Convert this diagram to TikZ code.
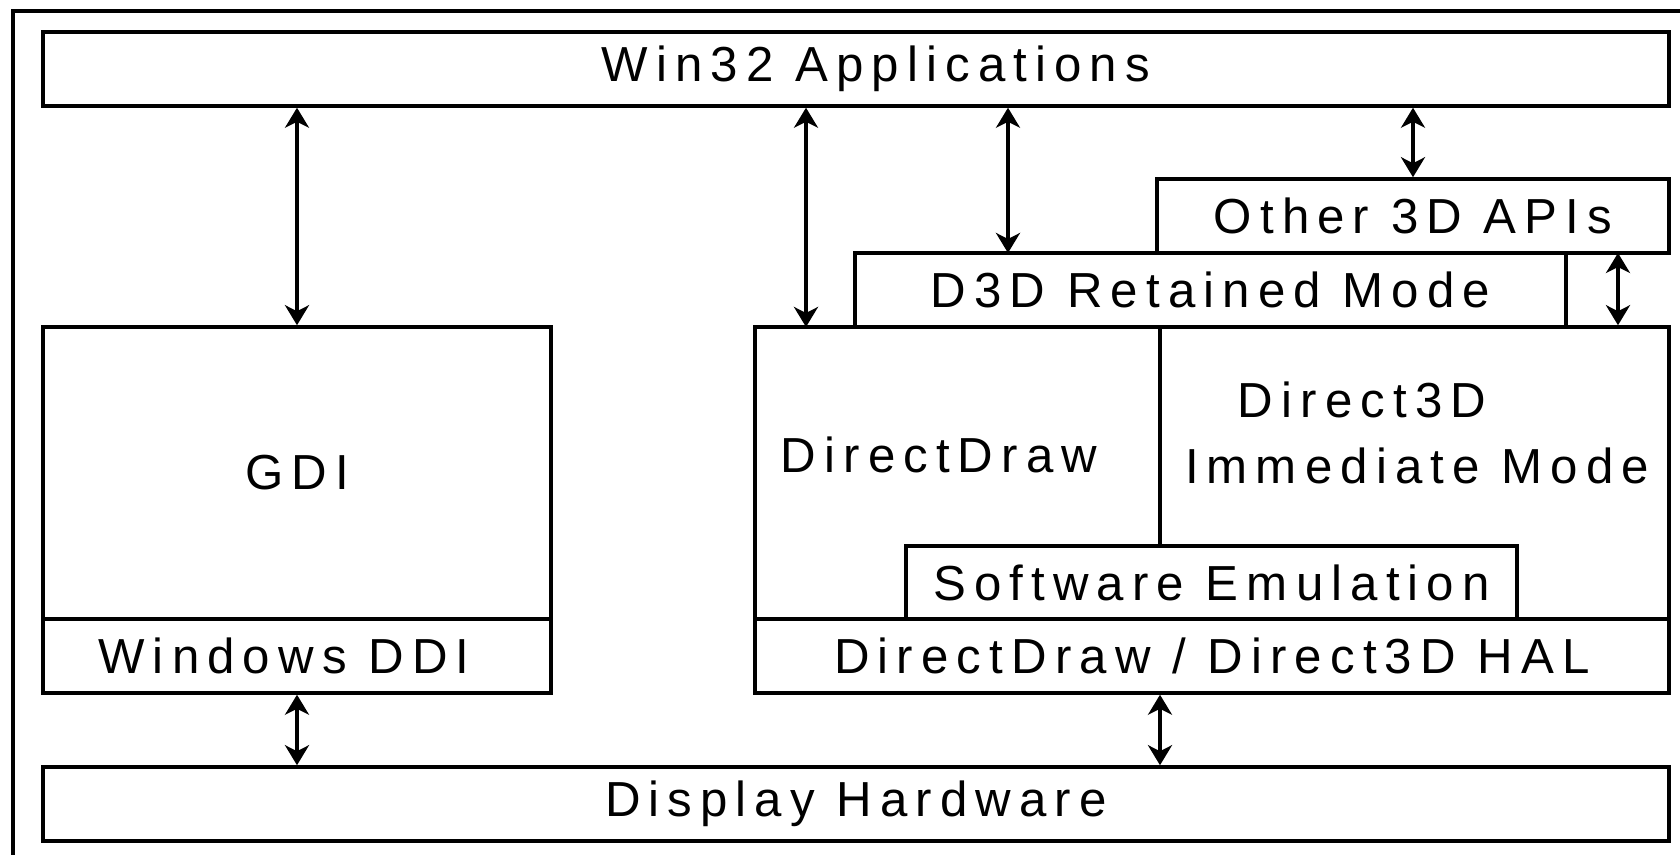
\documentclass[tikz,border=0pt]{standalone}
\usepackage{fontspec}
\setmainfont{Liberation Sans}[LetterSpace = 16.5]
\usetikzlibrary{arrows.meta}
\begin{document}
\begin{tikzpicture}[x = .1mm, y = -.1mm, line width = 1pt,
    layer/.style = {draw, rectangle, inner sep = 0pt,
                    font = \fontsize{14}{16}\selectfont},
    txt/.style = {inner sep = 0pt, font = \fontsize{14}{16}\selectfont},
    link/.style = {{Stealth[length = 2mm, width = 2.4mm, inset = .6mm]}-{Stealth[length = 2mm, width = 2.4mm, inset = .6mm]}}]
  \useasboundingbox (0,0) rectangle (1680,855);
  \draw (13,855) -- (13,11) -- (1680,11);

  % layers
  \node [layer, minimum width = 162.6mm, minimum height = 7.4mm]
    (win) at (856,69) {\hspace*{4mm}Win32 Applications};
  \node [layer, minimum width = 51.2mm, minimum height = 7.4mm]
    (other) at (1413,216) {Other 3D APIs};
  \node [layer, minimum width = 71.1mm, minimum height = 7.4mm]
    (retained) at (1210.5,290) {D3D Retained Mode};
  \node [layer, minimum width = 91.4mm, minimum height = 29.2mm]
    (ddraw) at (1212,473) {};
  \node [layer, minimum width = 61.1mm, minimum height = 7.3mm]
    (swemu) at (1211.5,582.5) {Software Emulation};
  \node [layer, minimum width = 91.4mm, minimum height = 7.4mm]
    (hal) at (1212,656) {DirectDraw / Direct3D HAL};
  \node [layer, minimum width = 50.8mm, minimum height = 29.2mm]
    (gdi) at (297,473) {GDI};
  \node [layer, minimum width = 50.8mm, minimum height = 7.4mm]
    (ddi) at (297,656) {\hspace*{-2.6mm}Windows DDI};
  \node [layer, minimum width = 162.6mm, minimum height = 7.4mm]
    (display) at (856,804) {Display Hardware};

  \node [txt] (ddtext) at (939,455) {DirectDraw};
  \node [txt] (d3dtext) at (1362,400) {Direct3D};
  \node [txt] (imtext) at (1417,466) {Immediate Mode};

  % split between DirectDraw and Direct3D
  \coordinate (split) at (1160,327);
  \draw (split) -- (split |- swemu.north);

  % arrows
  \coordinate (ddin) at (806,327);
  \coordinate (rmin) at (1008,253);
  \coordinate (otherout) at (1618,253);
  \draw [link] (win.south -| gdi.north) -- (gdi.north);
  \draw [link] (win.south -| ddin) -- (ddin);
  \draw [link] (win.south -| rmin) -- (rmin);
  \draw [link] (win.south -| other.north) -- (other.north);
  \draw [link] (otherout) -- (otherout |- ddraw.north);
  \draw [link] (ddi.south) -- (display.north -| ddi.south);
  \draw [link] (hal.south -| split) -- (display.north -| split);
\end{tikzpicture}
\end{document}
